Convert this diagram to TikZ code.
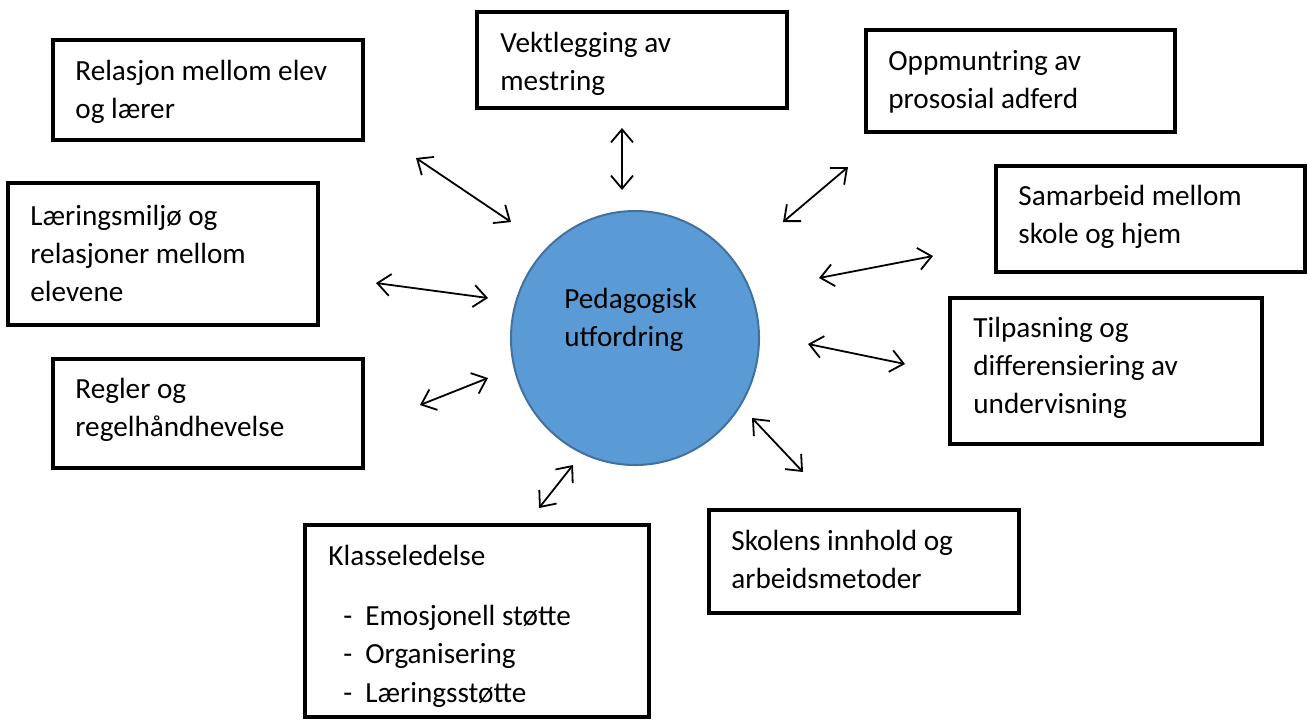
\documentclass[tikz,border=0pt]{standalone}
\usepackage{fontspec}
\setmainfont{Carlito}
\usetikzlibrary{arrows.meta,shapes.geometric,fit}
\definecolor{ellfill}{HTML}{5B9BD5}
\definecolor{elldraw}{HTML}{41719C}
\tikzset{
  box/.style={draw=black, line width=1.8pt, inner sep=0pt, rectangle},
  txt/.style={anchor=base west, align=left, inner sep=0pt,
    font=\fontsize{14.6pt}{19pt}\selectfont},
  link/.style={line width=0.9pt, {Straight Barb[length=6.5pt,width=11pt,line width=0.9pt]}-{Straight Barb[length=6.5pt,width=11pt,line width=0.9pt]}}
}
\begin{document}
\begin{tikzpicture}[x=0.5pt,y=-0.5pt]
\useasboundingbox (0,0) rectangle (1309,720);
% boxes
\node[box, fit={(53,40) (363,140)}] (b1) {};
\node[box, fit={(477,12) (787,108)}] (b2) {};
\node[box, fit={(866,30) (1175,132)}] (b3) {};
\node[box, fit={(996,166) (1305,272)}] (b4) {};
\node[box, fit={(8,183) (318,325)}] (b5) {};
\node[box, fit={(950,298) (1262,444)}] (b6) {};
\node[box, fit={(53,359) (363,468)}] (b7) {};
\node[box, fit={(709,510) (1019,613)}] (b8) {};
\node[box, fit={(305,525) (649,717)}] (b9) {};
% texts (anchor = baseline of the last line)
\node[txt] (t1) at (75,118) {Relasjon mellom elev\\og lærer};
\node[txt] (t2) at (500,90) {Vektlegging av\\mestring};
\node[txt] (t3) at (888,108) {Oppmuntring av\\prososial adferd};
\node[txt] (t4) at (1018,243) {Samarbeid mellom\\skole og hjem};
\node[txt] (t5) at (30,301) {Læringsmiljø og\\relasjoner mellom\\elevene};
\node[txt] (t6) at (973,413) {Tilpasning og\\differensiering av\\undervisning};
\node[txt] (t7) at (75,436) {Regler og\\regelhåndhevelse};
\node[txt] (t8) at (731,588) {Skolens innhold og\\arbeidsmetoder};
\node[txt] (t9) at (328,565) {Klasseledelse};
\node[txt] (d1) at (343,625) {-};
\node[txt] (d2) at (343,663) {-};
\node[txt] (d3) at (343,702) {-};
\node[txt] (i1) at (365,625) {Emosjonell støtte};
\node[txt] (i2) at (365,663) {Organisering};
\node[txt] (i3) at (365,702) {Læringsstøtte};
% centre
\node[ellipse, draw=elldraw, line width=1pt, fill=ellfill, minimum width=124pt, minimum height=127pt, inner sep=0pt] (c) at (635,338) {};
\node[txt] (ct) at (564,346) {Pedagogisk\\utfordring};
% arrow end points
\coordinate (a1s) at (416,158); \coordinate (a1e) at (511,222);
\coordinate (a2s) at (622,128); \coordinate (a2e) at (622,190);
\coordinate (a3s) at (848,167); \coordinate (a3e) at (783,222);
\coordinate (a4s) at (933,256); \coordinate (a4e) at (819,278);
\coordinate (a5s) at (376,283); \coordinate (a5e) at (488,298);
\coordinate (a6s) at (808,344); \coordinate (a6e) at (905,364);
\coordinate (a7s) at (420,405); \coordinate (a7e) at (488,378);
\coordinate (a8s) at (752,418); \coordinate (a8e) at (803,472);
\coordinate (a9s) at (573,465); \coordinate (a9e) at (539,508);
\foreach \i in {1,...,9} {\draw[link] (a\i s) -- (a\i e);}
\end{tikzpicture}
\end{document}
